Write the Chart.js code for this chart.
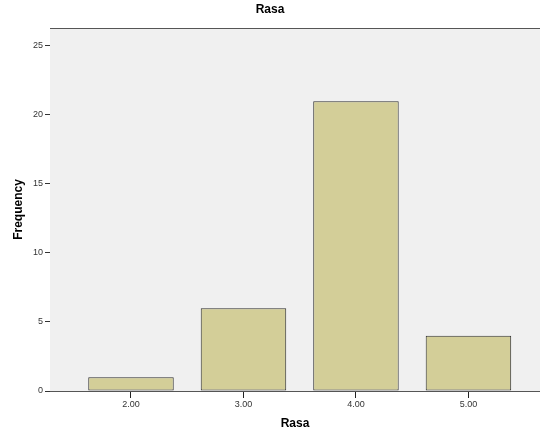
<!DOCTYPE html>
<html>
<head>
<meta charset="utf-8">
<script src="https://cdn.jsdelivr.net/npm/chart.js@4/dist/chart.umd.min.js"></script>
<style>
  html, body { margin: 0; padding: 0; background: #fff; }
  #wrap { width: 540px; height: 432px; }
</style>
</head>
<body>
<div id="wrap"><canvas id="chart" width="540" height="432"></canvas></div>
<script>
// Frequency of each Rasa score
const categories = [2, 3, 4, 5];
const frequency = [1, 6, 21, 4];
const yTicks = [0, 5, 10, 15, 20, 25];

const FONT = 'Arial, "Liberation Sans", sans-serif';

// plot background + top frame line, like SPSS output
const frame = {
  id: 'frame',
  beforeDatasetsDraw(chart) {
    const { ctx, chartArea: a } = chart;
    ctx.save();
    ctx.fillStyle = '#f0f0f0';
    ctx.fillRect(a.left, a.top, a.right - a.left, a.bottom - a.top);
    ctx.strokeStyle = '#555';
    ctx.lineWidth = 1;
    ctx.beginPath();
    ctx.moveTo(a.left, a.top + 0.5);
    ctx.lineTo(a.right, a.top + 0.5);
    ctx.stroke();
    ctx.restore();
  }
};

new Chart(document.getElementById('chart'), {
  type: 'bar',
  data: {
    datasets: [{
      label: 'Frequency',
      data: categories.map((c, i) => ({ x: c, y: frequency[i] })),
      backgroundColor: '#d3ce98',
      borderColor: '#2e2e2e',
      borderWidth: 1,
      borderSkipped: false,
      barPercentage: 0.95,
      categoryPercentage: 0.8
    }]
  },
  options: {
    responsive: false,
    animation: false,
    layout: { padding: 0 },
    plugins: {
      legend: { display: false },
      tooltip: { enabled: false },
      title: {
        display: true,
        text: 'Rasa',
        color: '#000',
        font: { family: FONT, size: 12, weight: 'bold' },
        padding: { top: 2, bottom: 11.6 }
      }
    },
    scales: {
      x: {
        type: 'linear',
        offset: false,
        min: 1.28,
        max: 5.636,
        afterBuildTicks: s => { s.ticks = categories.map(v => ({ value: v })); },
        afterFit: s => { s.height = 41; },
        grid: { offset: false, drawOnChartArea: false, drawTicks: true, tickLength: 7, color: '#222' },
        border: { display: true, color: '#555' },
        ticks: {
          color: '#333',
          font: { family: FONT, size: 9 },
          padding: 1,
          maxRotation: 0,
          callback: v => Number(v).toFixed(2)
        },
        title: {
          display: true,
          text: 'Rasa',
          color: '#000',
          font: { family: FONT, size: 12, weight: 'bold' },
          padding: { top: 0, bottom: 1 }
        }
      },
      y: {
        min: 0,
        max: 26.3,
        afterBuildTicks: s => { s.ticks = yTicks.map(v => ({ value: v })); },
        afterFit: s => { s.width = 50; },
        grid: { drawOnChartArea: false, drawTicks: true, tickLength: 5, color: '#333' },
        border: { display: true, color: '#555' },
        ticks: {
          color: '#333',
          font: { family: FONT, size: 9 },
          padding: 2
        },
        title: {
          display: true,
          text: 'Frequency',
          color: '#000',
          font: { family: FONT, size: 12, weight: 'bold' },
          padding: { top: 11, bottom: 0 }
        }
      }
    }
  },
  plugins: [frame]
});
</script>
</body>
</html>
